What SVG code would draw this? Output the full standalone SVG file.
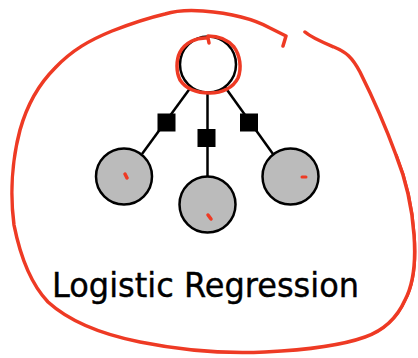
<svg xmlns="http://www.w3.org/2000/svg" width="418" height="358" viewBox="0 0 418 358">
<style>
.edge{stroke:#000;stroke-width:2.5;fill:none}
.sq{fill:#000}
.var{fill:#bbbbbb;stroke:#000;stroke-width:2.5}
.out{fill:#fff;stroke:#000;stroke-width:2.5}
.ink{fill:none;stroke:#ee3a24;stroke-linecap:round;stroke-linejoin:round}
.lbl{font-family:"DejaVu Sans",Verdana,sans-serif;font-size:34px;fill:#000;stroke:#000;stroke-width:0.4}
</style>
<rect width="418" height="358" fill="#fff"/>
<g id="connectors">
<line class="edge" x1="191" y1="87" x2="142" y2="154"/>
<line class="edge" x1="207.5" y1="93" x2="207.5" y2="176"/>
<line class="edge" x1="225" y1="87" x2="273" y2="154"/>
<rect class="sq" x="157.5" y="113.5" width="18" height="18"/>
<rect class="sq" x="197.5" y="129" width="18" height="18"/>
<rect class="sq" x="240" y="113.5" width="18" height="18"/>
</g>
<g id="node-output"><circle class="out" cx="208" cy="64.5" r="28"/></g>
<g id="node-x1"><circle class="var" cx="124" cy="176.5" r="28"/></g>
<g id="node-x2"><circle class="var" cx="207.5" cy="204.5" r="28"/></g>
<g id="node-x3"><circle class="var" cx="290.5" cy="176.5" r="28"/></g>
<g id="label"><text class="lbl" x="52" y="297" textLength="307" lengthAdjust="spacingAndGlyphs">Logistic Regression</text></g>
<g id="annotations">
<path class="ink" stroke-width="3.5" d="M209,43 L208,38 C196,37 185,43 180,52 C176,60 176,72 180,80 C186,89 197,93 210,93 C222,93 233,88 238,78 C242,68 240,55 234,47 C228,40 218,36 208,36"/>
<path class="ink" stroke-width="3.5" d="M305,32 C312,38 322,42 334,47 C346,52 352,57 360,72 C372,96 385,125 396,155 C406,180 412,205 414,235 C416,262 413,285 405,300 C397,318 385,330 365,337 C340,346 305,350 265,352 C225,354 180,350 140,342 C100,334 70,322 48,302 C30,283 20,255 14,225 C10,195 12,160 20,130 C27,105 38,85 55,68 C72,50 90,40 112,31 C130,24 148,18 165,14 C178,10 190,10 203,11 C228,13 252,18 270,28 L286,36 L283,46"/>
<path class="ink" stroke-width="1.5" d="M396,155 C406,180 412,205 414,235 C416,262 413,285 405,300 C397,318 385,330 365,337" transform="translate(1,0)"/>
<path class="ink" stroke-width="3.5" d="M125,174 L127,178"/>
<path class="ink" stroke-width="3.5" d="M208,215 L211,219"/>
<path class="ink" stroke-width="3" d="M302,177 L306,177"/>
</g>
</svg>
